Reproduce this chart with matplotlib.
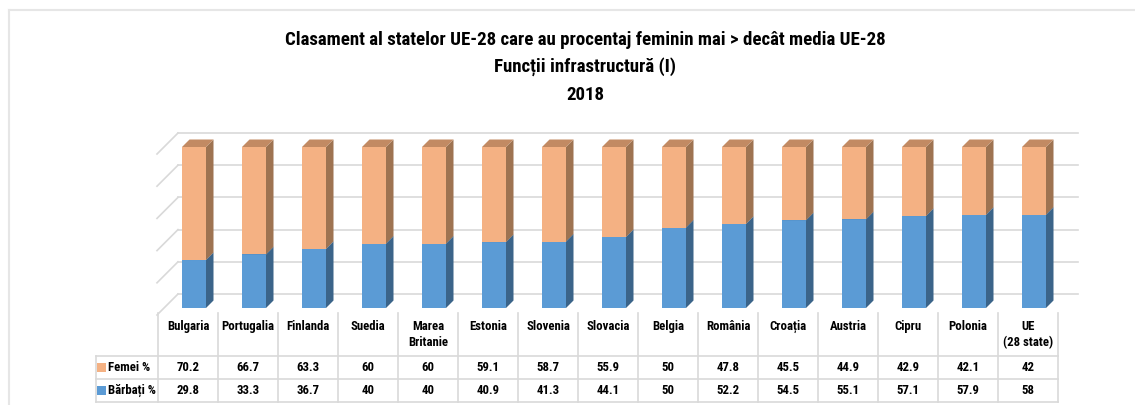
import numpy as np
import matplotlib.pyplot as plt
from matplotlib.patches import Polygon, Rectangle
from matplotlib import font_manager

# data
tari = ['Bulgaria', 'Portugalia', 'Finlanda', 'Suedia', 'Marea\nBritanie', 'Estonia',
        'Slovenia', 'Slovacia', 'Belgia', 'România', 'Croația', 'Austria', 'Cipru',
        'Polonia', 'UE\n(28 state)']
femei = [70.2, 66.7, 63.3, 60, 60, 59.1, 58.7, 55.9, 50, 47.8, 45.5, 44.9, 42.9, 42.1, 42]
barbati = [29.8, 33.3, 36.7, 40, 40, 40.9, 41.3, 44.1, 50, 52.2, 54.5, 55.1, 57.1, 57.9, 58]
serii = ['Femei %', 'Bărbați %']

# fonts
have = {f.name for f in font_manager.fontManager.ttflist}
fam = [f for f in ['Liberation Sans Narrow', 'Roboto Condensed', 'Open Sans', 'DejaVu Sans'] if f in have]
plt.rcParams['font.family'] = fam

W, H = 1135, 405
fig = plt.figure(figsize=(W / 100, H / 100), dpi=100)

# overlay in pixel coords for frame, title and table
ov = fig.add_axes([0, 0, 1, 1])
ov.set_xlim(0, W)
ov.set_ylim(H, 0)
ov.axis('off')

gcol = '#d9d9d9'
ov.plot([9, W], [10, 10], color='#e6e6e6', lw=1.5)
ov.plot([9, 9], [10, H], color='#e6e6e6', lw=1.5)

tx = 585
tfs = 13.6
ov.text(tx, 40, 'Clasament al statelor UE-28 care au procentaj feminin mai > decât media UE-28',
        ha='center', va='center', fontsize=tfs, fontweight='bold')
ov.text(tx, 67, 'Funcții infrastructură (I)', ha='center', va='center', fontsize=tfs, fontweight='bold')
ov.text(tx, 95, '2018', ha='center', va='center', fontsize=tfs, fontweight='bold')

# bar axes: x = category index, y = percent (front plane of bars)
n = len(tari)
ax = fig.add_axes([164 / W, (H - 308) / H, 900 / W, 161 / H])
ax.set_xlim(-0.5, n - 0.5)
ax.set_ylim(0, 100)
ax.axis('off')
px_x = 1 / 60.0       # data units per pixel in x
px_y = 100 / 161.0    # data units per pixel in y

# back wall and side wall grid
bx, by = 14 * px_x, 14 * px_y
fx, fy = -7 * px_x, -7 * px_y
for v in range(0, 101, 20):
    ax.plot([-0.5 + bx, n - 0.5 + bx], [v + by, v + by], color=gcol, lw=1.2, clip_on=False, zorder=1)
    ax.plot([-0.5 + bx, -0.5 + fx], [v + by, v + fy], color=gcol, lw=1.2, clip_on=False, zorder=1)

# 3d bars
dx, dy = 7.5 * px_x, 7.5 * px_y
bw = 0.4
x = np.arange(n)
culori = {
    'b': ('#5b9bd5', '#3b6489', '#4f86b8'),
    'f': ('#f4b183', '#9e7351', '#c28a63'),
}
for i in range(n):
    segs = [(0, barbati[i], culori['b']), (barbati[i], barbati[i] + femei[i], culori['f'])]
    for y0, y1, (cf, cs, ct) in segs:
        x0, x1 = x[i] - bw / 2, x[i] + bw / 2
        ax.add_patch(Rectangle((x0, y0), bw, y1 - y0, facecolor=cf, edgecolor='none', zorder=3, clip_on=False))
        ax.add_patch(Polygon([(x1, y0), (x1 + dx, y0 + dy), (x1 + dx, y1 + dy), (x1, y1)],
                             facecolor=cs, edgecolor='none', zorder=3, clip_on=False))
        ax.add_patch(Polygon([(x0, y1), (x0 + dx, y1 + dy), (x1 + dx, y1 + dy), (x1, y1)],
                             facecolor=ct, edgecolor='none', zorder=3, clip_on=False))

# data table
left0, cw = 158, 60
top, r1, r2, r3 = 313, 356, 379, 402
for k in range(n + 1):
    xx = left0 + k * cw
    ov.plot([xx, xx], [top, r3], color=gcol, lw=1.2)
ov.plot([96, 96], [r1, r3], color=gcol, lw=1.2)
for yy in (r1, r2, r3):
    ov.plot([96, left0 + n * cw], [yy, yy], color=gcol, lw=1.2)

fs = 9.2
for k in range(n):
    cx = left0 + k * cw + cw / 2
    ov.text(cx, 320, tari[k], ha='center', va='top', fontsize=fs, fontweight='bold', linespacing=1.3)
    ov.text(cx, (r1 + r2) / 2, f'{femei[k]:g}', ha='center', va='center', fontsize=fs, fontweight='bold')
    ov.text(cx, (r2 + r3) / 2, f'{barbati[k]:g}', ha='center', va='center', fontsize=fs, fontweight='bold')

for yy, nume, c in [((r1 + r2) / 2, serii[0], '#f4b183'), ((r2 + r3) / 2, serii[1], '#5b9bd5')]:
    ov.add_patch(Rectangle((97, yy - 4.5), 9, 9, facecolor=c, edgecolor='none'))
    ov.text(108, yy, nume, ha='left', va='center', fontsize=fs, fontweight='bold')

fig.savefig('out.png', dpi=100)
